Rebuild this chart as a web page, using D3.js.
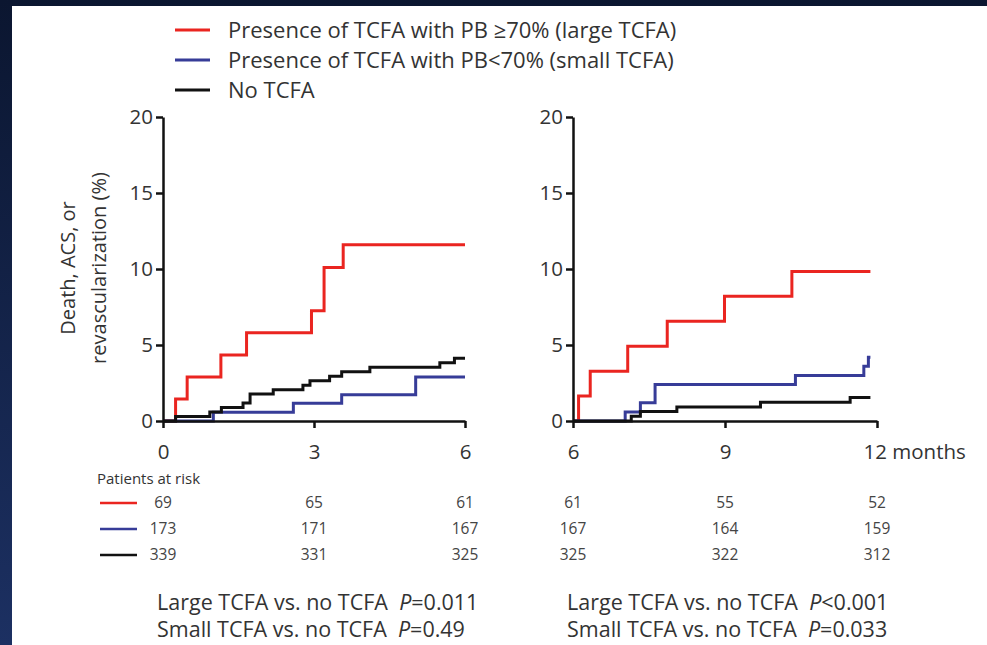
<!DOCTYPE html>
<html>
<head>
<meta charset="utf-8">
<script src="https://cdn.jsdelivr.net/npm/d3@7"></script>
<style>
  body { margin: 0; background: #0c1831; }
  svg { display: block; font-family: "Open Sans", Lato, sans-serif; }
</style>
</head>
<body>
<svg id="chart" width="987" height="645"></svg>
<script>
// series: [month, cumulative event %]
const largeA = [[0, 0], [0.25, 1.45], [0.48, 2.9], [1.15, 4.35], [1.66, 5.8], [2.95, 7.25], [3.2, 10.1], [3.58, 11.6], [6, 11.6]];
const smallA = [[0, 0], [1.0, 0.58], [2.59, 1.16], [3.55, 1.73], [5.02, 2.89], [6, 2.89]];
const noneA  = [[0, 0], [0.25, 0.3], [0.93, 0.59], [1.16, 0.88], [1.59, 1.18], [1.73, 1.77], [2.19, 2.06],
                [2.78, 2.36], [2.92, 2.65], [3.31, 2.95], [3.55, 3.24], [4.11, 3.54], [5.5, 3.83], [5.79, 4.13], [6, 4.13]];

const largeB = [[6, 0], [6.11, 1.64], [6.34, 3.28], [7.08, 4.92], [7.86, 6.56], [8.99, 8.2], [10.32, 9.84], [11.87, 9.84]];
const smallB = [[6, 0], [7.03, 0.6], [7.33, 1.2], [7.62, 2.4], [10.39, 3.0], [11.74, 3.6], [11.83, 4.2], [11.87, 4.2]];
const noneB  = [[6, 0], [7.15, 0.31], [7.33, 0.62], [8.05, 0.92], [9.7, 1.23], [11.47, 1.54], [11.87, 1.54]];

const seriesNames = ["Presence of TCFA with PB \u226570% (large TCFA)", "Presence of TCFA with PB<70% (small TCFA)", "No TCFA"];
const seriesColors = ["#ea2520", "#373c98", "#111111"];

const ticksA = [0, 3, 6];
const ticksB = [6, 9, 12];
const yTicks = [0, 5, 10, 15, 20];

const riskLarge = [[69, 65, 61], [61, 55, 52]];
const riskSmall = [[173, 171, 167], [167, 164, 159]];
const riskNone  = [[339, 331, 325], [325, 322, 312]];

const pTextA = [["Large TCFA vs. no TCFA  ", "=0.011"], ["Small TCFA vs. no TCFA  ", "=0.49"]];
const pTextB = [["Large TCFA vs. no TCFA  ", "<0.001"], ["Small TCFA vs. no TCFA  ", "=0.033"]];

const svg = d3.select("#chart");

// slide background
const grad = svg.append("defs").append("linearGradient")
    .attr("id", "bg").attr("x1", 0).attr("y1", 0).attr("x2", 0).attr("y2", 1);
grad.append("stop").attr("offset", "0%").attr("stop-color", "#0b1630");
grad.append("stop").attr("offset", "100%").attr("stop-color", "#1c3062");
svg.append("rect").attr("width", 987).attr("height", 645).attr("fill", "url(#bg)");
svg.append("rect").attr("x", 12).attr("y", 6).attr("width", 975).attr("height", 639).attr("fill", "#fff");

// legend
const legend = svg.append("g");
seriesNames.forEach((name, i) => {
  const y = 30 + i * 30;
  legend.append("line")
      .attr("x1", 175).attr("x2", 210).attr("y1", y).attr("y2", y)
      .attr("stroke", seriesColors[i]).attr("stroke-width", 3);
  legend.append("text")
      .attr("x", 228).attr("y", y + 8)
      .attr("font-size", 22).attr("fill", "#333")
      .text(name);
});

const y = d3.scaleLinear().domain([0, 20]).range([421, 117]);

function panel(x0, x1, domain, ticks, series, risk, pText, last) {
  const x = d3.scaleLinear().domain(domain).range([x0, x1]);
  const g = svg.append("g");

  const line = d3.line()
      .x(d => x(d[0]))
      .y(d => y(d[1]))
      .curve(d3.curveStepAfter);

  series.forEach((s, i) => {
    g.append("path")
        .datum(s)
        .attr("fill", "none")
        .attr("stroke", seriesColors[i])
        .attr("stroke-width", 3)
        .attr("d", line);
  });

  const yAxis = g.append("g")
      .attr("transform", `translate(${x0},0)`)
      .call(d3.axisLeft(y).tickValues(yTicks).tickSize(7).tickSizeOuter(0).tickPadding(3));
  const xAxis = g.append("g")
      .attr("transform", `translate(0,${y(0)})`)
      .call(d3.axisBottom(x).tickValues(ticks).tickSize(7).tickSizeOuter(0).tickPadding(16)
        .tickFormat(d => (last && d === 12) ? "12 months" : d));

  [yAxis, xAxis].forEach(a => {
    a.select(".domain").attr("stroke", "#111").attr("stroke-width", 2.5);
    a.selectAll(".tick line").attr("stroke", "#111").attr("stroke-width", 2.5);
    a.selectAll(".tick text").attr("font-size", 20.5).attr("fill", "#333")
        .attr("font-family", "'Open Sans', Lato, sans-serif");
  });
  if (last) {
    xAxis.selectAll(".tick text").filter(d => d === 12)
        .attr("text-anchor", "start").attr("dx", -14);
  }

  // numbers at risk
  [risk[0], risk[1], risk[2]].forEach((row, r) => {
    g.selectAll(null)
        .data(row)
        .enter().append("text")
        .attr("x", (d, i) => x(ticks[i]))
        .attr("y", 508 + r * 26)
        .attr("text-anchor", "middle")
        .attr("font-size", 15.5).attr("fill", "#444")
        .text(d => d);
  });

  // p-values
  pText.forEach((p, i) => {
    const t = g.append("text")
        .attr("x", x0 - 6).attr("y", 610 + i * 27)
        .attr("font-size", 21.5).attr("fill", "#333")
        .style("white-space", "pre");
    t.append("tspan").text(p[0]);
    t.append("tspan").attr("font-style", "italic").text("P");
    t.append("tspan").text(p[1]);
  });
}

panel(163, 465, [0, 6], ticksA, [largeA, smallA, noneA],
      [riskLarge[0], riskSmall[0], riskNone[0]], pTextA, false);
panel(573, 877, [6, 12], ticksB, [largeB, smallB, noneB],
      [riskLarge[1], riskSmall[1], riskNone[1]], pTextB, true);

// patients at risk header and legend marks
svg.append("text")
    .attr("x", 97).attr("y", 484)
    .attr("font-size", 15).attr("fill", "#333")
    .text("Patients at risk");
seriesColors.forEach((c, i) => {
  svg.append("line")
      .attr("x1", 100).attr("x2", 137)
      .attr("y1", 503 + i * 26).attr("y2", 503 + i * 26)
      .attr("stroke", c).attr("stroke-width", 2.5);
});

// y-axis title
const yTitle = svg.append("text")
    .attr("transform", "translate(0,268) rotate(-90)")
    .attr("text-anchor", "middle")
    .attr("font-size", 20).attr("fill", "#333");
yTitle.append("tspan").attr("x", 0).attr("y", 75).text("Death, ACS, or");
yTitle.append("tspan").attr("x", 0).attr("y", 106).text("revascularization (%)");
</script>
</body>
</html>
